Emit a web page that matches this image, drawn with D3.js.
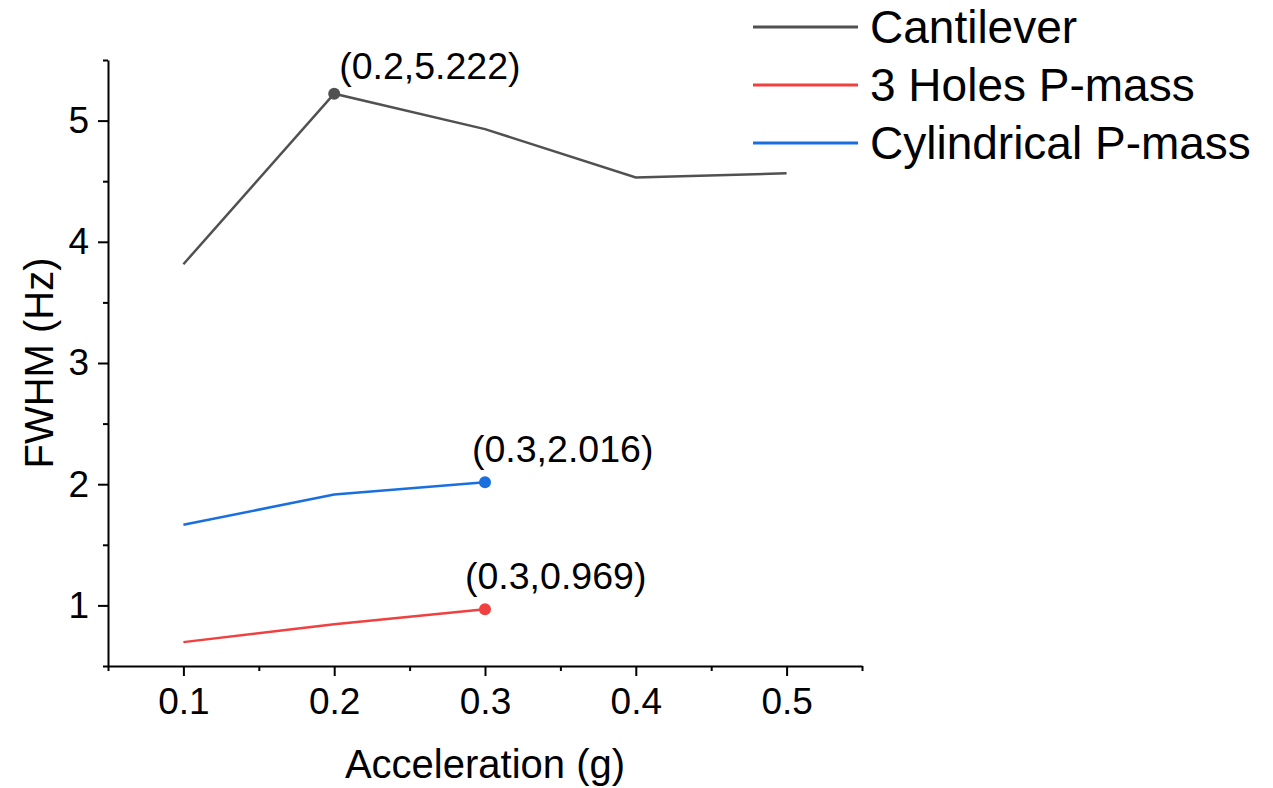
<!DOCTYPE html>
<html>
<head>
<meta charset="utf-8">
<script src="https://cdn.jsdelivr.net/npm/d3@7"></script>
<style>
  body { margin: 0; background: #fff; }
  svg text { font-family: "Liberation Sans", Arial, sans-serif; fill: #000; }
</style>
</head>
<body>
<svg id="chart"></svg>
<script>
const svgWidth = 1273;
const svgHeight = 788;

// data
const accel = [0.1, 0.2, 0.3, 0.4, 0.5];
const seriesNames = ["Cantilever", "3 Holes P-mass", "Cylindrical P-mass"];
const cantilever = [3.815, 5.222, 4.93, 4.53, 4.565];
const holes3 = [0.697, 0.845, 0.969];
const cylindrical = [1.665, 1.915, 2.016];
const seriesColors = ["#515151", "#F14040", "#1A6FDF"];
const xTicks = [0.1, 0.2, 0.3, 0.4, 0.5];
const yTicks = [1, 2, 3, 4, 5];
// labelled points: [series index, point index, label]
const labelled = [[0, 1, "(0.2,5.222)"], [1, 2, "(0.3,0.969)"], [2, 2, "(0.3,2.016)"]];

const svg = d3.select("#chart")
    .attr("width", svgWidth)
    .attr("height", svgHeight);

const x = d3.scaleLinear().domain([0.05, 0.55]).range([108, 862]);
const y = d3.scaleLinear().domain([0.5, 5.5]).range([666, 60]);

const allSeries = [cantilever, holes3, cylindrical].map((vals, i) => ({
    name: seriesNames[i],
    color: seriesColors[i],
    points: vals.map((v, j) => ({x: accel[j], y: v}))
}));

// axes
const xMinor = d3.range(0.05, 0.56, 0.1);
const yMinor = d3.range(0.5, 5.6, 1);

svg.append("g")
    .attr("transform", `translate(0,${y.range()[0]})`)
    .call(d3.axisBottom(x).tickValues(xMinor).tickSize(5).tickSizeOuter(0).tickFormat(""))
    .call(g => g.select(".domain").remove());
const xAxis = svg.append("g")
    .attr("transform", `translate(0,${y.range()[0]})`)
    .call(d3.axisBottom(x).tickValues(xTicks).tickSize(10).tickSizeOuter(0).tickPadding(12).tickFormat(d3.format(".1f")));
xAxis.selectAll("text").attr("font-size", 37);

svg.append("g")
    .attr("transform", `translate(${x.range()[0]},0)`)
    .call(d3.axisLeft(y).tickValues(yMinor).tickSize(5).tickSizeOuter(0).tickFormat(""))
    .call(g => g.select(".domain").remove());
const yAxis = svg.append("g")
    .attr("transform", `translate(${x.range()[0]},0)`)
    .call(d3.axisLeft(y).tickValues(yTicks).tickSize(10).tickSizeOuter(0).tickPadding(9).tickFormat(d3.format("d")));
yAxis.selectAll("text").attr("font-size", 37);

svg.selectAll(".domain").attr("stroke-width", 2);
svg.selectAll(".tick line").attr("stroke-width", 2);

svg.append("text")
    .attr("x", (x.range()[0] + x.range()[1]) / 2)
    .attr("y", 778)
    .attr("text-anchor", "middle")
    .attr("font-size", 40)
    .text("Acceleration (g)");

svg.append("text")
    .attr("transform", `translate(53,${(y.range()[0] + y.range()[1]) / 2}) rotate(-90)`)
    .attr("text-anchor", "middle")
    .attr("font-size", 40)
    .text("FWHM (Hz)");

// lines
const line = d3.line().x(d => x(d.x)).y(d => y(d.y));
svg.append("g").selectAll("path")
    .data(allSeries)
    .join("path")
    .attr("d", d => line(d.points))
    .attr("fill", "none")
    .attr("stroke", d => d.color)
    .attr("stroke-width", 2.5);

// labelled points
const labelDx = [5, -20, -13];
const labelDy = [-15, -20, -20];
labelled.forEach(([si, pi, txt], k) => {
    const s = allSeries[si];
    const p = s.points[pi];
    svg.append("circle")
        .attr("cx", x(p.x)).attr("cy", y(p.y)).attr("r", 6)
        .attr("fill", s.color);
    svg.append("text")
        .attr("x", x(p.x) + labelDx[k])
        .attr("y", y(p.y) + labelDy[k])
        .attr("font-size", 37.5)
        .text(txt);
});

// legend
const legend = svg.append("g").selectAll("g")
    .data(allSeries)
    .join("g")
    .attr("transform", (d, i) => `translate(753,${27 + i * 58})`);
legend.append("line")
    .attr("x1", 0).attr("x2", 105)
    .attr("stroke", d => d.color)
    .attr("stroke-width", 3);
legend.append("text")
    .attr("x", 117)
    .attr("y", 16)
    .attr("font-size", 46)
    .text(d => d.name);
</script>
</body>
</html>
